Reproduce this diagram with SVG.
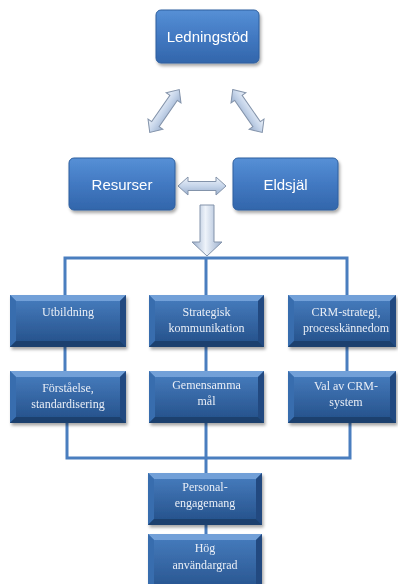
<svg xmlns="http://www.w3.org/2000/svg" width="398" height="584" viewBox="0 0 398 584">
<defs>
  <linearGradient id="topg" x1="0" y1="0" x2="0" y2="1">
    <stop offset="0" stop-color="#5690d6"/>
    <stop offset="0.5" stop-color="#4279c2"/>
    <stop offset="1" stop-color="#3266ab"/>
  </linearGradient>
  <linearGradient id="faceg" x1="0" y1="0" x2="0" y2="1">
    <stop offset="0" stop-color="#4479ba"/>
    <stop offset="1" stop-color="#27548e"/>
  </linearGradient>
  <linearGradient id="arrg" x1="0" y1="0" x2="0" y2="1">
    <stop offset="0" stop-color="#eef3fa"/>
    <stop offset="0.5" stop-color="#c6d5ea"/>
    <stop offset="1" stop-color="#9aafcd"/>
  </linearGradient>
  <linearGradient id="arrgv" x1="0" y1="0" x2="1" y2="0">
    <stop offset="0" stop-color="#9aafcd"/>
    <stop offset="0.45" stop-color="#eef3fa"/>
    <stop offset="1" stop-color="#9aafcd"/>
  </linearGradient>
  <filter id="sh" x="-20%" y="-20%" width="140%" height="150%">
    <feDropShadow dx="1.5" dy="2.5" stdDeviation="1.8" flood-color="#000" flood-opacity="0.35"/>
  </filter>
</defs>
<style>
  .top { fill: url(#topg); stroke: #2f5f9e; stroke-width: 1; }
  .tt { font-family: "Liberation Sans", Arial, sans-serif; font-size: 15px; fill: #ffffff; text-anchor: middle; }
  .st { font-family: "Liberation Serif", "Times New Roman", serif; font-size: 12px; fill: #e9eef6; text-anchor: middle; }
  .face { fill: url(#faceg); }
  .bt { fill: #72a0d8; }
  .bl { fill: #376dae; }
  .br { fill: #214a80; }
  .bb { fill: #1b406e; }
  .conn { stroke: #4a7ebf; stroke-width: 3; fill: none; }
  .arr { stroke: #8393aa; stroke-width: 1; }
</style>

<g id="connectors">
  <polyline class="conn" points="65,297 65,258 347,258 347,297"/>
  <line class="conn" x1="206" y1="258" x2="206" y2="297"/>
  <line class="conn" x1="65" y1="347" x2="65" y2="372"/>
  <line class="conn" x1="206" y1="347" x2="206" y2="372"/>
  <line class="conn" x1="347" y1="347" x2="347" y2="372"/>
  <polyline class="conn" points="67,422 67,458 350,458 350,422"/>
  <line class="conn" x1="206" y1="422" x2="206" y2="474"/>
  <line class="conn" x1="206" y1="524" x2="206" y2="535"/>

  <g id="arrow-left-diag" transform="translate(164.5,111) rotate(-55.4)">
    <path class="arr" fill="url(#arrg)" d="M-26,0 L-16,-9 L-16,-4.5 L16,-4.5 L16,-9 L26,0 L16,9 L16,4.5 L-16,4.5 L-16,9 Z"/>
  </g>
  <g id="arrow-right-diag" transform="translate(247.5,111) rotate(55.4)">
    <path class="arr" fill="url(#arrg)" d="M-26,0 L-16,-9 L-16,-4.5 L16,-4.5 L16,-9 L26,0 L16,9 L16,4.5 L-16,4.5 L-16,9 Z"/>
  </g>
  <g id="arrow-horiz" transform="translate(202,186)">
    <path class="arr" fill="url(#arrg)" d="M-24,0 L-14,-9 L-14,-4.5 L14,-4.5 L14,-9 L24,0 L14,9 L14,4.5 L-14,4.5 L-14,9 Z"/>
  </g>
  <g id="arrow-down">
    <path class="arr" fill="url(#arrgv)" d="M200,205 L214,205 L214,242 L222,242 L207,256 L192,242 L200,242 Z"/>
  </g>
</g>

<g id="ledningstod" filter="url(#sh)">
  <rect class="top" x="156" y="10" width="103" height="53" rx="5"/>
  <text class="tt" x="207.5" y="42">Ledningstöd</text>
</g>
<g id="resurser" filter="url(#sh)">
  <rect class="top" x="69" y="158" width="106" height="52" rx="5"/>
  <text class="tt" x="122" y="189.5">Resurser</text>
</g>
<g id="eldsjal" filter="url(#sh)">
  <rect class="top" x="233" y="158" width="105" height="52" rx="5"/>
  <text class="tt" x="285.5" y="189.5">Eldsjäl</text>
</g>

<g id="utbildning" filter="url(#sh)" transform="translate(10,295)">
  <rect class="face" width="116" height="52"/>
  <polygon class="bt" points="0,0 116,0 110,6 6,6"/>
  <polygon class="bl" points="0,0 6,6 6,46 0,52"/>
  <polygon class="br" points="116,0 116,52 110,46 110,6"/>
  <polygon class="bb" points="0,52 6,46 110,46 116,52"/>
  <rect x="6" y="6" width="104" height="40" fill="url(#faceg)"/>
  <text class="st" x="58" y="21">Utbildning</text>
</g>
<g id="strategisk" filter="url(#sh)" transform="translate(149,295)">
  <rect class="face" width="115" height="52"/>
  <polygon class="bt" points="0,0 115,0 109,6 6,6"/>
  <polygon class="bl" points="0,0 6,6 6,46 0,52"/>
  <polygon class="br" points="115,0 115,52 109,46 109,6"/>
  <polygon class="bb" points="0,52 6,46 109,46 115,52"/>
  <rect x="6" y="6" width="103" height="40" fill="url(#faceg)"/>
  <text class="st" x="57.5" y="21">Strategisk</text>
  <text class="st" x="57.5" y="37">kommunikation</text>
</g>
<g id="crm-strategi" filter="url(#sh)" transform="translate(288,295)">
  <rect class="face" width="108" height="52"/>
  <polygon class="bt" points="0,0 108,0 102,6 6,6"/>
  <polygon class="bl" points="0,0 6,6 6,46 0,52"/>
  <polygon class="br" points="108,0 108,52 102,46 102,6"/>
  <polygon class="bb" points="0,52 6,46 102,46 108,52"/>
  <rect x="6" y="6" width="96" height="40" fill="url(#faceg)"/>
  <text class="st" x="58" y="21">CRM-strategi,</text>
  <text class="st" x="58" y="37">processkännedom</text>
</g>

<g id="forstaelse" filter="url(#sh)" transform="translate(10,371)">
  <rect class="face" width="116" height="52"/>
  <polygon class="bt" points="0,0 116,0 110,6 6,6"/>
  <polygon class="bl" points="0,0 6,6 6,46 0,52"/>
  <polygon class="br" points="116,0 116,52 110,46 110,6"/>
  <polygon class="bb" points="0,52 6,46 110,46 116,52"/>
  <rect x="6" y="6" width="104" height="40" fill="url(#faceg)"/>
  <text class="st" x="58" y="21">Förståelse,</text>
  <text class="st" x="58" y="37">standardisering</text>
</g>
<g id="gemensamma" filter="url(#sh)" transform="translate(149,371)">
  <rect class="face" width="115" height="52"/>
  <polygon class="bt" points="0,0 115,0 109,6 6,6"/>
  <polygon class="bl" points="0,0 6,6 6,46 0,52"/>
  <polygon class="br" points="115,0 115,52 109,46 109,6"/>
  <polygon class="bb" points="0,52 6,46 109,46 115,52"/>
  <rect x="6" y="6" width="103" height="40" fill="url(#faceg)"/>
  <text class="st" x="57.5" y="18">Gemensamma</text>
  <text class="st" x="57.5" y="34">mål</text>
</g>
<g id="val-av-crm" filter="url(#sh)" transform="translate(288,371)">
  <rect class="face" width="108" height="52"/>
  <polygon class="bt" points="0,0 108,0 102,6 6,6"/>
  <polygon class="bl" points="0,0 6,6 6,46 0,52"/>
  <polygon class="br" points="108,0 108,52 102,46 102,6"/>
  <polygon class="bb" points="0,52 6,46 102,46 108,52"/>
  <rect x="6" y="6" width="96" height="40" fill="url(#faceg)"/>
  <text class="st" x="58" y="19">Val av CRM-</text>
  <text class="st" x="58" y="35">system</text>
</g>

<g id="personal" filter="url(#sh)" transform="translate(148,473)">
  <rect class="face" width="114" height="52"/>
  <polygon class="bt" points="0,0 114,0 108,6 6,6"/>
  <polygon class="bl" points="0,0 6,6 6,46 0,52"/>
  <polygon class="br" points="114,0 114,52 108,46 108,6"/>
  <polygon class="bb" points="0,52 6,46 108,46 114,52"/>
  <rect x="6" y="6" width="102" height="40" fill="url(#faceg)"/>
  <text class="st" x="57" y="18">Personal-</text>
  <text class="st" x="57" y="34">engagemang</text>
</g>
<g id="hog" filter="url(#sh)" transform="translate(148,534)">
  <rect class="face" width="114" height="56"/>
  <polygon class="bt" points="0,0 114,0 108,6 6,6"/>
  <polygon class="bl" points="0,0 6,6 6,56 0,56"/>
  <polygon class="br" points="114,0 114,56 108,56 108,6"/>
  <rect x="6" y="6" width="102" height="50" fill="url(#faceg)"/>
  <text class="st" x="57" y="18">Hög</text>
  <text class="st" x="57" y="35">användargrad</text>
</g>
</svg>
